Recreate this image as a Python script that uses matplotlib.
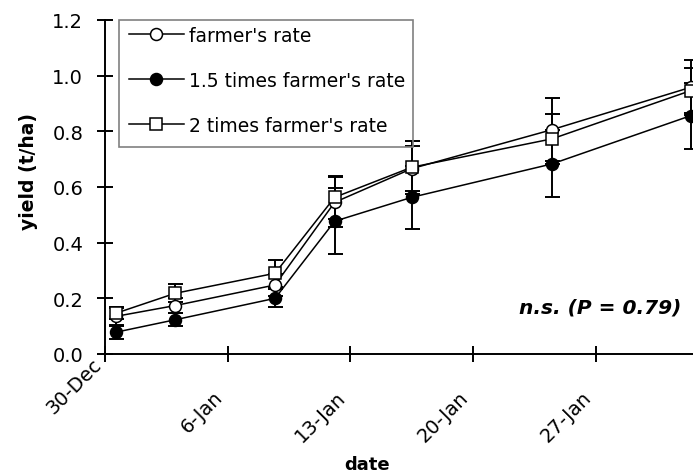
import matplotlib
matplotlib.use("Agg")
import matplotlib.pyplot as plt
from matplotlib.patches import Rectangle
from matplotlib.transforms import ScaledTranslation

plt.rcParams['font.family'] = ['DejaVu Sans']

# sampling dates, in days after 30-Dec
days = [0.6, 4.0, 9.7, 13.1, 17.5, 25.5, 33.4]
tick_days = [0, 7, 14, 21, 28]
tick_labels = ["30-Dec", "6-Jan", "13-Jan", "20-Jan", "27-Jan"]

series_names = ["farmer's rate", "1.5 times farmer's rate", "2 times farmer's rate"]
yield_1x = [0.135, 0.174, 0.248, 0.545, 0.666, 0.806, 0.958]
err_1x = [0.030, 0.028, 0.040, 0.090, 0.082, 0.113, 0.100]
yield_15x = [0.078, 0.123, 0.200, 0.477, 0.563, 0.683, 0.856]
err_15x = [0.024, 0.023, 0.032, 0.118, 0.114, 0.120, 0.119]
yield_2x = [0.146, 0.218, 0.290, 0.563, 0.671, 0.773, 0.946]
err_2x = [0.022, 0.032, 0.049, 0.078, 0.095, 0.089, 0.081]

W, H = 693, 477
DPI = 100
fig = plt.figure(figsize=(W / DPI, H / DPI), dpi=DPI)
ax = fig.add_axes([105 / W, (H - 355) / H, (W - 105) / W, (355 - 21) / H])

styles = [
    dict(marker='o', mfc='white'),
    dict(marker='o', mfc='black'),
    dict(marker='s', mfc='white'),
]
ys = [yield_1x, yield_15x, yield_2x]
errs = [err_1x, err_15x, err_2x]

# error bars first, underneath all markers
for y, e in zip(ys, errs):
    ax.errorbar(days, y, yerr=e, fmt='none', ecolor='black', elinewidth=1.4,
                capsize=5.4, capthick=1.4, zorder=2, clip_on=False)

handles = []
for name, y, st in zip(series_names, ys, styles):
    ln, = ax.plot(days, y, color='black', lw=1.1, marker=st['marker'],
                  mfc=st['mfc'], mec='black', mew=1.1, ms=8.6, zorder=3,
                  clip_on=False, label=name)
    handles.append(ln)

ax.set_xlim(0, 33.54)
ax.set_ylim(0, 1.2)
ax.set_yticks([0, 0.2, 0.4, 0.6, 0.8, 1.0, 1.2])
ax.set_yticklabels(["0.0", "0.2", "0.4", "0.6", "0.8", "1.0", "1.2"])
ax.set_xticks(tick_days)
ax.set_xticklabels(tick_labels, rotation=45, ha='right', va='center',
                   rotation_mode='anchor')

for s in ['top', 'right']:
    ax.spines[s].set_visible(False)
for s in ['left', 'bottom']:
    ax.spines[s].set_linewidth(1.4)
ax.tick_params(axis='both', direction='inout', length=11.5, width=1.4,
               labelsize=14, colors='black')
ax.tick_params(axis='y', pad=10)
ax.tick_params(axis='x', pad=18)

# nudge the date labels; the first one sits higher, next to the y axis
for i, lab in enumerate(ax.get_xticklabels()):
    dx, dy = -8, -7
    if i == 0:
        dx, dy = -6, 26
    lab.set_transform(lab.get_transform() +
                      ScaledTranslation(dx / DPI, dy / DPI, fig.dpi_scale_trans))

fig.text(28 / W, 1 - 172 / H, "yield (t/ha)", rotation=90, fontsize=13.5,
         fontweight='bold', ha='center', va='center')
fig.text(367 / W, 1 - 465 / H, "date", fontsize=13, fontweight='bold',
         ha='center', va='center')
fig.text(600 / W, 1 - 308 / H, "n.s. (P = 0.79)", fontsize=14.5,
         fontweight='bold', fontstyle='italic', ha='center', va='center')

# legend entries, with a separate outline box
leg = ax.legend(handles=handles, loc='upper left',
                bbox_to_anchor=(129 / W, 1 - 27 / H),
                bbox_transform=fig.transFigure, fontsize=13.5, frameon=False,
                borderpad=0, labelspacing=1.38, handlelength=2.93,
                handletextpad=0.27, borderaxespad=0)
fig.add_artist(Rectangle((119 / W, 1 - 148 / H), (413 - 119) / W, (148 - 21) / H,
                         transform=fig.transFigure, fill=False,
                         edgecolor='#808080', linewidth=1.2, zorder=1))

fig.savefig("out.png", dpi=DPI)
